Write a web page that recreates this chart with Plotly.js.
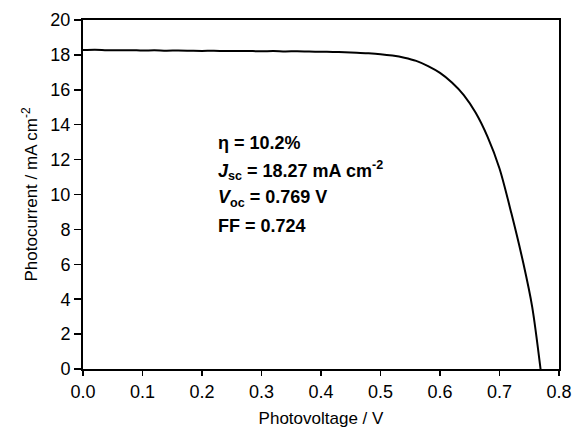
<!DOCTYPE html>
<html>
<head>
<meta charset="utf-8">
<script src="https://cdn.plot.ly/plotly-3.0.1.min.js"></script>
<style>html,body{margin:0;padding:0;background:#fff;}#chart{width:572px;height:435px;}</style>
</head>
<body>
<div id="chart"></div>
<script>
const voltage = [0.00,0.02,0.04,0.06,0.08,0.10,0.12,0.14,0.16,0.18,0.20,0.22,0.24,0.26,0.28,0.30,0.32,0.34,0.36,0.38,0.40,0.42,0.44,0.46,0.48,0.50,0.52,0.54,0.56,0.58,0.60,0.62,0.64,0.66,0.68,0.70,0.72,0.74,0.755,0.769];
const current = [18.28,18.30,18.27,18.26,18.27,18.25,18.26,18.24,18.25,18.24,18.23,18.24,18.22,18.23,18.22,18.21,18.22,18.20,18.21,18.19,18.18,18.17,18.15,18.12,18.09,18.04,17.96,17.84,17.66,17.36,16.97,16.42,15.70,14.68,13.30,11.49,8.92,6.07,3.55,0];
const xTicks = [0,0.1,0.2,0.3,0.4,0.5,0.6,0.7,0.8];
const yTicks = [0,2,4,6,8,10,12,14,16,18,20];
const labels = ["η = 10.2%", "<i>J</i><sub>sc</sub> = 18.27 mA cm<sup>-2</sup>", "<i>V</i><sub>oc</sub> = 0.769 V", "FF = 0.724"];
const labelY = [0.648, 0.570, 0.488, 0.410];

const FONT = 'Liberation Sans, Arial, sans-serif';
const axisCommon = {
  showgrid:false, zeroline:false, showline:true, linecolor:'#000', linewidth:2,
  mirror:true, ticks:'outside', tickwidth:1.5, tickcolor:'#000',
  tickfont:{family:FONT, size:18, color:'#000'}
};

const trace = {x:voltage, y:current, mode:'lines', line:{color:'#000', width:2, shape:'spline', smoothing:0.8}, hoverinfo:'skip'};

const layout = {
  width:572, height:435,
  margin:{l:83, r:13, t:20, b:66},
  paper_bgcolor:'#fff', plot_bgcolor:'#fff',
  showlegend:false,
  xaxis: Object.assign({}, axisCommon, {range:[0,0.8], ticklen:5, tickvals:xTicks, ticktext:xTicks.map(v=>v.toFixed(1)),
    title:{text:'Photovoltage / V', font:{family:FONT, size:17, color:'#000'}, standoff:12}}),
  yaxis: Object.assign({}, axisCommon, {range:[0,20], ticklen:7, tickvals:yTicks,
    title:{text:'Photocurrent / mA cm<sup>-2</sup>', font:{family:FONT, size:17, color:'#000'}, standoff:8}}),
  annotations: labels.map((t,i)=>({text:'<b>'+t+'</b>', xref:'paper', yref:'paper', x:0.280, y:labelY[i], xanchor:'left', yanchor:'middle', showarrow:false,
    font:{family:FONT, size:18, color:'#000'}}))
};

Plotly.newPlot('chart', [trace], layout, {displayModeBar:false, staticPlot:true});
</script>
</body>
</html>
